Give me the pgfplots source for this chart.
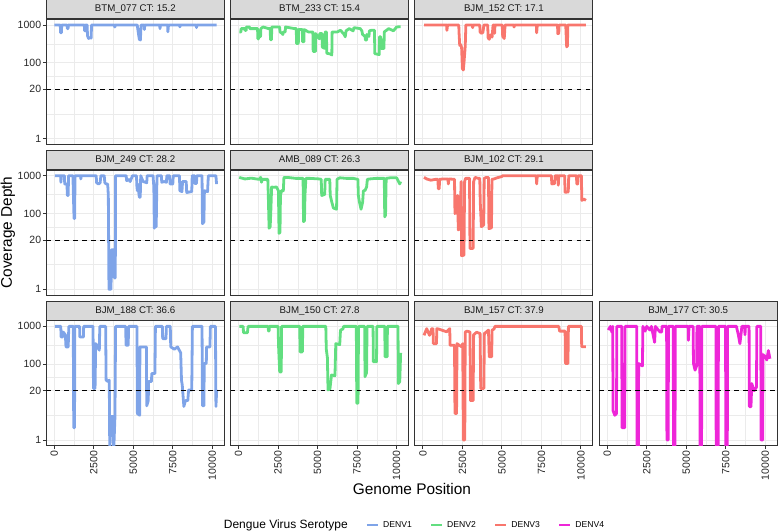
\documentclass[border=0pt]{standalone}
\usepackage{fontspec}
\setmainfont{Liberation Sans}
\usepackage{pgfplots}
\pgfplotsset{compat=1.18}
\definecolor{denvA}{RGB}{127,164,232}
\definecolor{denvB}{RGB}{98,222,128}
\definecolor{denvC}{RGB}{248,118,109}
\definecolor{denvD}{RGB}{238,38,216}
\definecolor{gridc}{RGB}{235,235,235}
\definecolor{stripc}{RGB}{217,217,217}
\definecolor{borderc}{RGB}{51,51,51}
\pgfplotsset{
  every axis title shift=0pt,
  panel/.style={
    scale only axis, width=178pt, height=125pt,
    xmin=-506, xmax=10760, ymin=0.708, ymax=1413,
    scaled x ticks=false,
    xtick={0,2500,5000,7500,10000}, minor xtick={1250,3750,6250,8750},
    ytick={1,20,100,1000}, minor ytick={4.472,44.72,316.2},
    grid=both,
    major grid style={draw=gridc, line width=0.9pt},
    minor grid style={draw=gridc, line width=0.45pt},
    axis line style={draw=borderc, line width=0.9pt},
    tick style={draw=borderc, line width=0.9pt},
    tick align=outside, major tick length=3.5pt, minor tick length=0pt,
    xminorticks=false, yminorticks=false,
    xmajorticks=false, ymajorticks=false,
    xtick pos=bottom, ytick pos=left,
    xticklabels={}, yticklabels={},
    tick label style={font=\fontsize{10.5}{12}\selectfont, text=black!85},
    title style={at={(0.5,1)}, anchor=south, yshift=0pt, fill=stripc, draw=borderc, line width=0.9pt,
      minimum width=178pt, minimum height=19pt, inner sep=0pt, font=\fontsize{9.7}{11}\selectfont, text=black!90},
  },
  yl/.style={ymajorticks=true, yticklabels={1,20,100,1000}, yticklabel style={inner sep=1.5pt}},
  xl/.style={xmajorticks=true, xticklabels={0,2500,5000,7500,10000}, xticklabel style={rotate=90, anchor=east, inner sep=1.5pt}},
  dl/.style={line width=2.8pt, line join=round},
}
\newcommand{\hl}{\addplot[black, line width=1pt, dash pattern=on 4.5pt off 4.5pt, forget plot] coordinates {(-506,20) (10760,20)};}
\begin{document}
\begin{tikzpicture}
\useasboundingbox (0,0) rectangle (778pt,532pt);
% Row 1
\begin{semilogyaxis}[panel, yl, at={(46.3pt,512.7pt)}, anchor=north west, title={BTM\_077 CT: 15.2}]
\addplot[denvA, dl] coordinates {(0,1000) (380,1000) (400,620) (450,620) (470,1000) (800,1000) (830,800) (870,800) (890,1000) (1900,1000) (1920,700) (1960,700) (1980,1000) (2080,1000) (2100,520) (2170,440) (2250,470) (2330,450) (2360,1000) (3800,1000) (3830,880) (3860,1000) (5250,1000) (5300,700) (5380,420) (5450,400) (5490,1000) (5680,1000) (5700,760) (5730,1000) (6670,1000) (6690,800) (6720,1000) (7170,1000) (7190,660) (7230,1000) (7930,1000) (7950,890) (7980,1000) (8980,1000) (9000,850) (9030,1000) (10280,1000)};
\hl
\end{semilogyaxis}
\begin{semilogyaxis}[panel, at={(230.6pt,512.7pt)}, anchor=north west, title={BTM\_233 CT: 15.4}]
\addplot[denvB, dl] coordinates {(42,656) (150,656) (160,800) (400,800) (410,720) (480,720) (490,886) (700,886) (710,800) (1200,800) (1220,430) (1260,430) (1280,700) (1330,700) (1350,490) (1390,490) (1410,800) (1550,886) (1900,800) (2000,800) (2020,410) (2080,410) (2100,886) (2600,886) (2620,656) (2750,600) (2800,560) (2830,656) (2950,656) (2970,886) (3550,800) (3650,800) (3670,325) (3780,325) (3800,760) (4030,760) (4050,360) (4130,360) (4150,760) (4410,656) (4700,656) (4720,200) (4860,200) (4880,593) (5000,500) (5120,430) (5140,593) (5280,593) (5300,260) (5460,240) (5480,656) (5560,656) (5580,180) (5820,170) (5900,161) (5920,656) (6250,656) (6450,725) (6680,560) (6750,486) (6800,700) (7000,800) (7250,700) (7300,850) (7700,800) (7800,700) (7850,560) (8000,500) (8030,400) (8100,400) (8120,560) (8250,500) (8280,700) (8400,725) (8600,725) (8620,175) (8900,165) (8920,486) (9000,486) (9020,240) (9200,240) (9220,656) (9500,802) (9800,700) (10000,886) (10255,900)};
\hl
\end{semilogyaxis}
\begin{semilogyaxis}[panel, at={(414.9pt,512.7pt)}, anchor=north west, title={BJM\_152 CT: 17.1}]
\addplot[denvC, dl] coordinates {(70,1000) (1500,1000) (1520,720) (1560,1000) (2270,1000) (2290,600) (2330,290) (2400,300) (2450,250) (2500,70) (2560,65) (2600,100) (2680,280) (2720,1000) (3120,1000) (3150,850) (3180,1000) (3600,1000) (3620,650) (3700,600) (3800,640) (3860,1000) (4100,1000) (4130,450) (4200,420) (4300,550) (4380,480) (4440,1000) (4520,1000) (4540,600) (4560,1000) (5020,1000) (5050,500) (5150,440) (5200,1000) (5750,1000) (5770,880) (5800,1000) (7180,1000) (7200,620) (7240,1000) (8520,1000) (8540,590) (8600,600) (8620,1000) (9040,1000) (9070,500) (9100,265) (9150,280) (9170,1000) (10320,1000)};
\hl
\end{semilogyaxis}
% Row 2
\begin{semilogyaxis}[panel, yl, at={(46.3pt,362pt)}, anchor=north west, title={BJM\_249 CT: 28.2},
  ylabel={Coverage Depth}, ylabel style={at={(-0.2152,0.5)}, anchor=center, font=\fontsize{15.4}{18}\selectfont}]
\addplot[denvA, dl] coordinates {(30,1000) (400,1000) (420,670) (450,1000) (640,1000) (660,600) (800,600) (830,300) (880,300) (900,1000) (1180,1000) (1210,300) (1250,74) (1290,74) (1310,1000) (1660,1000) (1680,820) (1700,1000) (2650,1000) (2680,650) (2800,600) (2900,650) (2950,1000) (3160,1000) (3200,650) (3300,600) (3380,600) (3420,300) (3460,1.0) (3590,1.0) (3620,11) (3780,11) (3800,2.0) (3860,2.0) (3880,1000) (4550,1000) (4580,740) (4700,800) (4800,700) (4950,1000) (5200,1000) (5230,500) (5260,400) (5290,600) (5380,270) (5440,270) (5470,1000) (5620,700) (5850,650) (5880,1000) (6250,1000) (6300,500) (6330,41) (6400,60) (6450,45) (6500,1000) (6780,1000) (6800,670) (6950,700) (7100,670) (7120,1000) (7300,1000) (7330,600) (7500,600) (7530,1000) (7920,1000) (7950,400) (8080,380) (8120,700) (8350,700) (8380,360) (8700,380) (8730,1000) (8880,1000) (8900,620) (9000,620) (9020,1000) (9350,1000) (9380,54) (9470,60) (9500,400) (9700,380) (9750,1000) (10230,1000) (10270,600)};
\hl
\end{semilogyaxis}
\begin{semilogyaxis}[panel, at={(230.6pt,362pt)}, anchor=north west, title={AMB\_089 CT: 26.3}]
\addplot[denvB, dl] coordinates {(42,900) (400,820) (800,860) (1300,800) (1400,900) (1450,670) (1500,800) (1850,800) (1880,300) (1930,41) (2000,45) (2050,150) (2090,500) (2200,496) (2400,500) (2520,400) (2560,30) (2620,32) (2650,300) (2720,406) (2830,400) (2870,900) (3100,900) (3600,850) (4080,850) (4110,61) (4170,65) (4200,300) (4260,850) (4500,850) (5100,820) (5230,800) (5260,300) (5450,320) (5480,800) (5770,800) (5800,300) (5900,200) (6000,140) (6200,130) (6230,800) (6400,880) (6800,850) (7250,850) (7550,800) (7580,300) (7650,200) (7750,130) (7850,200) (7900,400) (8000,406) (8100,500) (8150,800) (8300,820) (8700,850) (9220,850) (9250,82) (9300,90) (9340,850) (9600,880) (10000,880) (10200,606) (10255,700)};
\hl
\end{semilogyaxis}
\begin{semilogyaxis}[panel, at={(414.9pt,362pt)}, anchor=north west, title={BJM\_102 CT: 29.1}]
\addplot[denvC, dl] coordinates {(70,905) (240,820) (500,760) (800,800) (950,800) (975,450) (1030,450) (1060,800) (1290,820) (1580,820) (1610,606) (1650,820) (2000,800) (2030,100) (2140,110) (2200,300) (2240,37) (2340,40) (2380,150) (2420,700) (2450,7.7) (2600,8) (2640,700) (2700,850) (2950,850) (2980,12) (3180,12) (3210,700) (3300,900) (3500,850) (3600,850) (3630,200) (3700,45) (3850,50) (3880,850) (4000,900) (4150,900) (4180,40) (4340,42) (4370,800) (4500,820) (4700,880) (5000,950) (5050,1000) (7170,1000) (7200,606) (7240,1000) (8130,1000) (8160,606) (8340,620) (8370,1000) (8550,1000) (8570,560) (8600,1000) (8970,1000) (9000,367) (9200,370) (9230,1000) (9720,1000) (9740,600) (9800,600) (9830,1000) (10030,1000) (10060,223) (10200,240) (10320,223)};
\hl
\end{semilogyaxis}
% Row 3
\begin{semilogyaxis}[panel, yl, xl, at={(46.3pt,211.3pt)}, anchor=north west, title={BJM\_188 CT: 36.6}]
\addplot[denvA, dl] coordinates {(42,1000) (410,1000) (430,525) (530,525) (560,710) (700,600) (740,287) (880,287) (920,1000) (1200,1000) (1230,2.1) (1280,2.1) (1300,1000) (1600,1000) (1620,525) (1840,525) (1860,1000) (2450,1000) (2480,23) (2580,23) (2620,350) (2750,300) (2850,235) (2880,1000) (3250,1000) (3280,38) (3400,35) (3480,38) (3510,0.5) (3600,4.2) (3720,4.2) (3760,0.5) (3840,4.2) (3880,1000) (4520,1000) (4540,317) (4680,317) (4700,1000) (5230,1000) (5260,5) (5400,4.5) (5420,287) (5830,287) (5850,8) (5950,11) (5960,35) (6150,35) (6170,57) (6370,57) (6400,1000) (6840,1000) (6860,475) (7070,475) (7090,1000) (7340,1000) (7370,287) (7600,250) (7800,287) (8000,200) (8050,38) (8100,28) (8200,7.7) (8300,11) (8450,11) (8500,21) (8700,21) (8740,1000) (9350,1000) (9380,8) (9470,8) (9490,105) (9620,105) (9640,287) (9850,287) (9880,1000) (10200,1000) (10230,7.7) (10280,21)};
\hl
\end{semilogyaxis}
\begin{semilogyaxis}[panel, xl, at={(230.6pt,211.3pt)}, anchor=north west, title={BJM\_150 CT: 27.8}]
\addplot[denvB, dl] coordinates {(42,1000) (290,1000) (310,682) (560,682) (600,1000) (1870,1000) (1890,754) (1930,754) (1950,1000) (2500,1000) (2530,300) (2600,63) (2700,63) (2720,1000) (3870,1000) (3890,212) (4040,212) (4060,1000) (5520,1000) (5550,250) (5620,150) (5660,21) (5780,22) (5880,52) (6100,50) (6150,350) (6400,330) (6450,800) (6600,850) (6650,1000) (7450,1000) (7480,9.4) (7560,9.4) (7590,1000) (7980,1000) (8000,47) (8100,60) (8130,1000) (8510,1000) (8530,116) (8730,116) (8750,1000) (9250,1000) (9270,157) (9400,157) (9420,1000) (10090,1000) (10110,31) (10200,35) (10230,86) (10255,200)};
\hl
\end{semilogyaxis}
\begin{semilogyaxis}[panel, xl, at={(414.9pt,211.3pt)}, anchor=north west, title={BJM\_157 CT: 37.9}]
\addplot[denvC, dl] coordinates {(70,580) (240,870) (420,580) (560,870) (640,870) (660,350) (860,350) (880,870) (1000,850) (1500,720) (1700,870) (1720,317) (2000,317) (2030,5) (2130,5) (2160,350) (2300,317) (2450,290) (2520,350) (2560,1.0) (2650,1.0) (2680,710) (2800,750) (2980,710) (3010,11) (3180,11) (3210,600) (3400,700) (3620,650) (3660,23) (3860,23) (3890,650) (4000,700) (4150,800) (4200,157) (4350,157) (4380,800) (4500,850) (4560,1000) (8600,1000) (8650,750) (9000,750) (9020,105) (9180,105) (9210,1000) (10030,1000) (10050,290) (10320,290)};
\hl
\end{semilogyaxis}
\begin{semilogyaxis}[panel, xl, at={(599.2pt,211.3pt)}, anchor=north west, title={BJM\_177 CT: 30.5},
  xlabel={Genome Position}, xlabel style={at={(-1.0517,-0.3464)}, anchor=center, font=\fontsize{15.4}{18}\selectfont},
  legend columns=-1,
  legend style={at={(-1.0517,-0.6344)}, anchor=center, draw=none, fill=none, font=\fontsize{8.6}{10}\selectfont,
    nodes={inner sep=0pt},
    /tikz/every odd column/.append style={column sep=4pt},
    /tikz/every even column/.append style={column sep=18pt}},
  legend image code/.code={\draw[#1, line width=2.4pt] (0pt,0pt) -- (11pt,0pt);}]
\addlegendimage{empty legend}
\addlegendentry{\fontsize{12}{14}\selectfont Dengue Virus Serotype}
\addlegendimage{denvA}
\addlegendentry{DENV1}
\addlegendimage{denvB}
\addlegendentry{DENV2}
\addlegendimage{denvC}
\addlegendentry{DENV3}
\addlegendimage{denvD}
\addlegendentry{DENV4}
\addplot[denvD, dl, forget plot] coordinates {(70,800) (200,1000) (300,700) (350,1000) (370,6) (480,4.5) (590,5) (610,1000) (920,1000) (940,2.1) (1110,2.1) (1130,1000) (1870,1000) (1890,0.3) (1970,0.3) (1990,105) (2230,90) (2260,1000) (2400,750) (2500,1000) (2700,800) (2800,1000) (3000,380) (3050,1000) (3340,710) (3450,710) (3470,1000) (3760,1000) (3780,1.0) (3860,1.0) (3880,1000) (4180,1000) (4200,0.3) (4290,0.3) (4310,1000) (5120,1000) (5140,430) (5180,1000) (5440,1000) (5460,105) (5560,70) (5660,90) (5680,1000) (5860,1000) (5880,0.3) (5970,0.3) (5990,1000) (6880,1000) (6900,0.3) (7020,0.3) (7040,1000) (7490,1000) (7510,0.3) (7600,0.3) (7620,1000) (8190,1000) (8210,870) (8300,600) (8400,350) (8500,800) (8520,1000) (8700,1000) (8720,600) (8750,1000) (8980,1000) (9000,7.6) (9100,7.6) (9150,31) (9300,20) (9450,25) (9470,1000) (9720,1000) (9740,1.0) (9840,1.0) (9860,180) (10000,160) (10100,130) (10200,230) (10300,140)};
\hl
\end{semilogyaxis}
\end{tikzpicture}
\end{document}
